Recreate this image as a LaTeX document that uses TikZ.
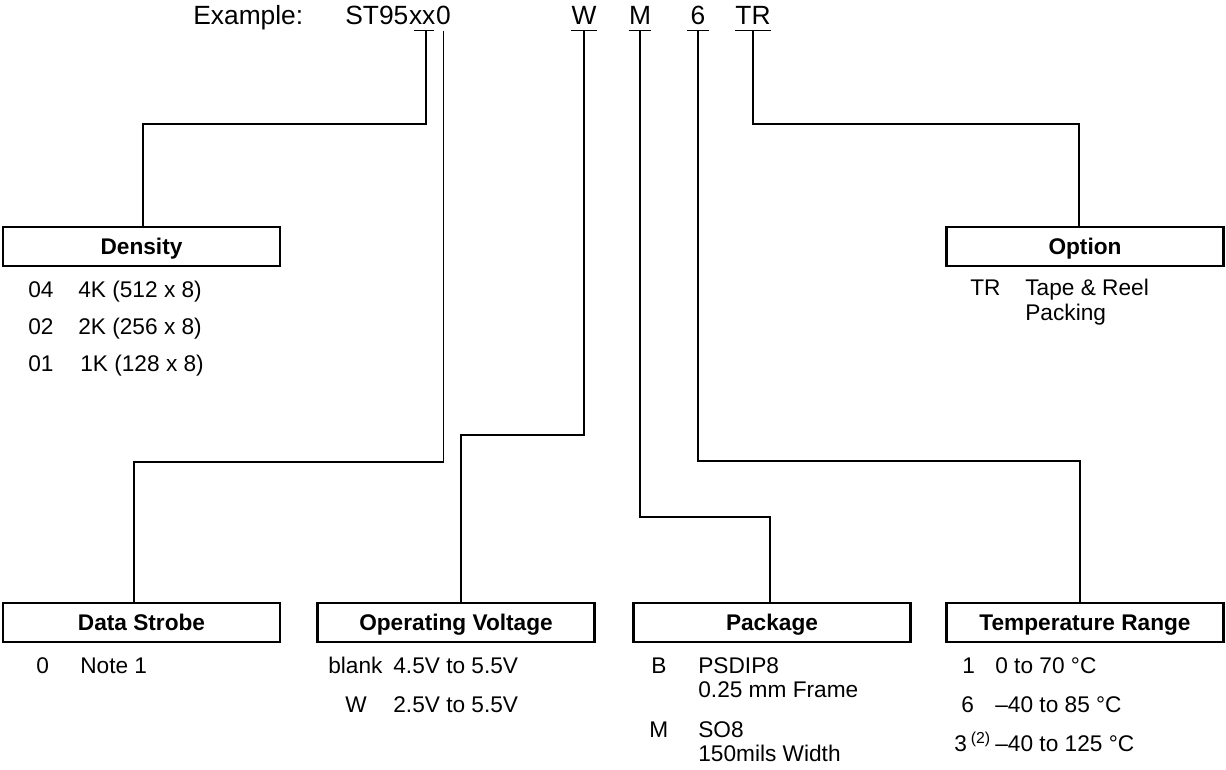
\documentclass[tikz,border=0pt]{standalone}
\usepackage{fontspec}
\setmainfont{Liberation Sans}
\usepackage{tikz}
\usetikzlibrary{calc}
\tikzset{
	wire/.style={line width=1pt},
	headbox/.style={draw, line width=1.3pt, minimum width=5.54cm, minimum height=0.78cm, inner sep=0pt, text depth=0pt, font=\bfseries\fontsize{12.9}{15}\selectfont},
	entry/.style={anchor=base west, inner sep=0pt, font=\fontsize{12.9}{15}\selectfont},
	letter/.style={anchor=base, inner sep=0pt, text depth=3pt, font=\fontsize{15}{18}\selectfont},
}

\begin{document}
\begin{tikzpicture}[x=0.02cm, y=-0.02cm]
		%%%%% START %%%%%
		\useasboundingbox (0,0) rectangle (1226,770);
		
		\node[letter, anchor=base west] (exmpl) at (193,25) {Example:};
		\node[letter, anchor=base west] (stpart) at (345,25) {ST95};
		\node[letter, anchor=base west] (xx) at (stpart.base east) {xx};
		\node[letter, anchor=base west] (zero) at (xx.base east) {0};
		\node[letter] (volt) at (584,25) {W};
		\node[letter] (pack) at (640,25) {M};
		\node[letter] (temp) at (698,25) {6};
		\node[letter] (opt) at (753,25) {TR};
		
		\draw[wire] ([xshift=3pt]xx.south west) -- ([xshift=-1pt]xx.south east);
		\draw[wire] (volt.south west) -- (volt.south east);
		\draw[wire] (pack.south west) -- (pack.south east);
		\draw[wire] ([xshift=-2pt]temp.south west) -- ([xshift=2pt]temp.south east);
		\draw[wire] (opt.south west) -- (opt.south east);
		
		\node[headbox] (density) at (141.5,246.5) {Density};
		\node[headbox] (option) at (1085,246.5) {Option};
		\node[headbox] (strobe) at (141.5,622.5) {Data Strobe};
		\node[headbox] (voltage) at (456,622.5) {Operating Voltage};
		\node[headbox] (package) at (772,622.5) {Package};
		\node[headbox] (temprange) at (1085,622.5) {Temperature Range};
		
		\coordinate (kDen) at (143,124);
		\coordinate (kStr) at (134,462);
		\coordinate (kVol) at (461,435);
		\coordinate (kPack) at (770,517);
		\coordinate (kTemp) at (1080,461);
		\coordinate (kOpt) at (1079,124);
		
		\draw[wire] ([xshift=2pt]xx.south) |- (kDen) -- (kDen |- density.north);
		\draw[wire] (zero.south) |- (kStr) -- (kStr |- strobe.north);
		\draw[wire] (volt.south) |- (kVol) -- (kVol |- voltage.north);
		\draw[wire] (pack.south) |- (kPack) -- (kPack |- package.north);
		\draw[wire] (temp.south) |- (kTemp) -- (kTemp |- temprange.north);
		\draw[wire] (opt.south) |- (kOpt) -- (kOpt |- option.north);
		
		% density
		\node[entry] (d04) at (28,297) {04};
		\node[entry] (d04t) at (78,297) {4K (512 x 8)};
		\node[entry] (d02) at (28,334) {02};
		\node[entry] (d02t) at (78,334) {2K (256 x 8)};
		\node[entry] (d01) at (28,371) {01};
		\node[entry] (d01t) at (80,371) {1K (128 x 8)};
		
		% option
		\node[entry] (otr) at (970,295) {TR};
		\node[entry] (otrt) at (1025,295) {Tape \& Reel};
		\node[entry] (otrp) at (1025,320) {Packing};
		
		% data strobe
		\node[entry] (s0) at (36,673) {0};
		\node[entry] (s0t) at (80,673) {Note 1};
		
		% operating voltage
		\node[entry] (vbl) at (328,673) {blank};
		\node[entry] (vblt) at (393,673) {4.5V to 5.5V};
		\node[entry] (vw) at (345,712) {W};
		\node[entry] (vwt) at (393,712) {2.5V to 5.5V};
		
		% package
		\node[entry] (pb) at (651,673) {B};
		\node[entry] (pbt) at (698,673) {PSDIP8};
		\node[entry] (pbf) at (698,697) {0.25 mm Frame};
		\node[entry] (pm) at (649,737) {M};
		\node[entry] (pmt) at (698,737) {SO8};
		\node[entry] (pmw) at (698,761) {150mils Width};
		
		% temperature range
		\node[entry] (t1) at (962,673) {1};
		\node[entry] (t1t) at (995,673) {0 to 70 °C};
		\node[entry] (t6) at (961,712) {6};
		\node[entry] (t6t) at (995,712) {–40 to 85 °C};
		\node[entry] (t3) at (954,751) {3\,\textsuperscript{(2)}};
		\node[entry] (t3t) at (995,751) {–40 to 125 °C};
		
		%%%%% END %%%%%
	\end{tikzpicture}
\end{document}
